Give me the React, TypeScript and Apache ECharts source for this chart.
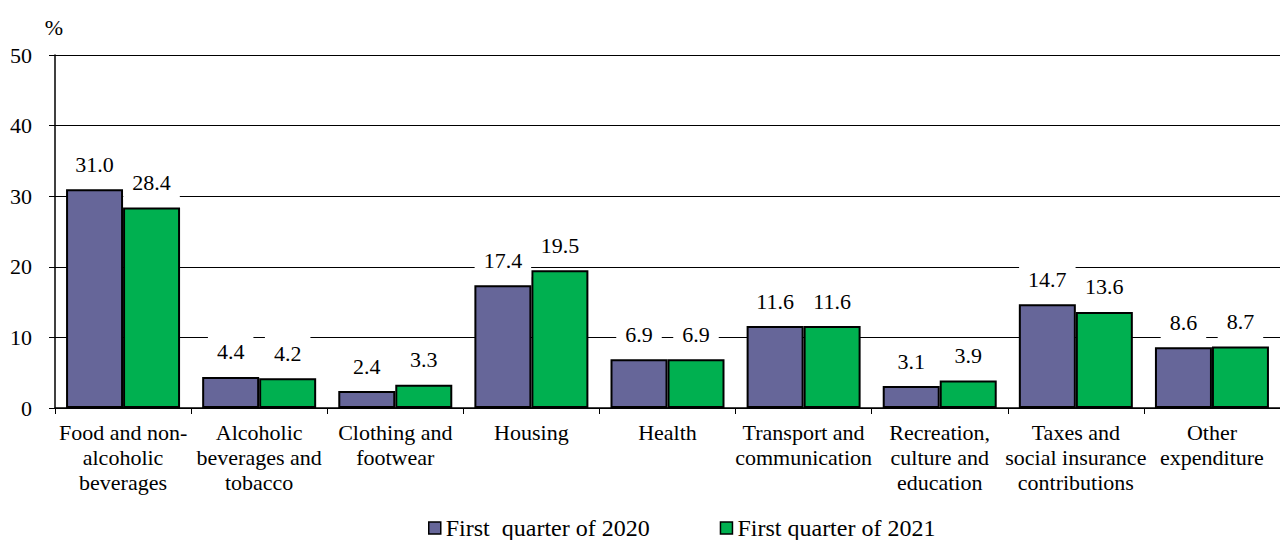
import React, { useEffect, useRef } from "react";
import * as echarts from "echarts";

const categories = [
  "Food and non-\nalcoholic\nbeverages",
  "Alcoholic\nbeverages and\ntobacco",
  "Clothing and\nfootwear",
  "Housing",
  "Health",
  "Transport and\ncommunication",
  "Recreation,\nculture and\neducation",
  "Taxes and\nsocial insurance\ncontributions",
  "Other\nexpenditure",
];
const series2020 = [31.0, 4.4, 2.4, 17.4, 6.9, 11.6, 3.1, 14.7, 8.6];
const series2021 = [28.4, 4.2, 3.3, 19.5, 6.9, 11.6, 3.9, 13.6, 8.7];
const seriesNames = ["First\u00a0 quarter of 2020", "First quarter of 2021"];
const colors = ["#666699", "#00B050"];

const FONT = "Liberation Serif";

export default function App() {
  const ref = useRef<HTMLDivElement>(null);
  useEffect(() => {
    if (!ref.current) return;
    const chart = echarts.init(ref.current, null, { renderer: "svg" });
    const label = {
      show: true,
      position: "top",
      distance: 8,
      color: "#000",
      fontFamily: FONT,
      fontSize: 22,
      backgroundColor: "#fff",
      padding: [6, 9, 6, 9],
      formatter: (p: any) => p.value.toFixed(1),
    };
    chart.setOption({
      animation: false,
      backgroundColor: "#fff",
      grid: { left: 55, top: 55, width: 1237, height: 353, containLabel: false },
      legend: {
        left: 423,
        top: 511,
        itemWidth: 12,
        itemHeight: 12,
        itemGap: 70,
        icon: "rect",
        textStyle: { fontFamily: FONT, fontSize: 24, color: "#000" },
        data: seriesNames.map((n, i) => ({
          name: n,
          itemStyle: { color: colors[i], borderColor: "#000", borderWidth: 1.5 },
        })),
      },
      xAxis: {
        type: "category",
        data: categories,
        axisLine: { lineStyle: { color: "#000", width: 1.5 } },
        axisTick: { show: true, length: 6, inside: false, lineStyle: { color: "#000" } },
        axisLabel: {
          interval: 0,
          margin: 12,
          color: "#000",
          fontFamily: FONT,
          fontSize: 22,
          lineHeight: 25,
        },
      },
      yAxis: {
        type: "value",
        min: 0,
        max: 50,
        interval: 10,
        name: "%",
        nameLocation: "end",
        nameGap: 17,
        nameTextStyle: { fontFamily: FONT, fontSize: 22, color: "#000", align: "right", padding: [0, -8, 0, 0] },
        axisLine: { show: true, lineStyle: { color: "#000", width: 1.5 } },
        axisTick: { show: true, length: 6, lineStyle: { color: "#000" } },
        axisLabel: { margin: 23, color: "#000", fontFamily: FONT, fontSize: 22 },
        splitLine: { show: true, lineStyle: { color: "#000", width: 1 } },
      },
      series: [
        {
          name: seriesNames[0],
          type: "bar",
          data: series2020,
          barWidth: 57,
          barGap: "0%",
          itemStyle: { color: colors[0], borderColor: "#000", borderWidth: 2 },
          label,
        },
        {
          name: seriesNames[1],
          type: "bar",
          data: series2021,
          barWidth: 57,
          barGap: "0%",
          itemStyle: { color: colors[1], borderColor: "#000", borderWidth: 2 },
          label,
        },
      ],
    });
    return () => chart.dispose();
  }, []);
  return (
    <>
      <style>{`.chart-root text { font-family: "Liberation Serif", "Times New Roman", serif !important; }`}</style>
      <div
        ref={ref}
        className="chart-root"
        style={{ position: "fixed", left: 0, top: 0, width: 1280, height: 540, background: "#fff" }}
      />
    </>
  );
}
